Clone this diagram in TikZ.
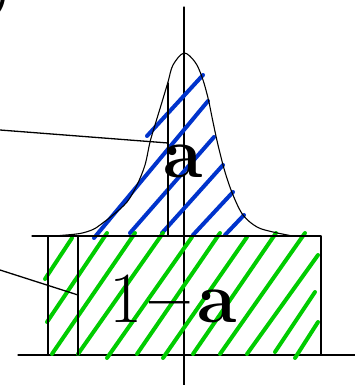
\documentclass[tikz,border=0pt]{standalone}
\usepackage{fontspec}
\usepackage{tikz}
\usetikzlibrary{calc}
\definecolor{hatchblue}{HTML}{0033CC}
\definecolor{hatchgreen}{HTML}{00CC00}
\tikzset{
    lab/.style={
        font=\fontsize{72}{80}\selectfont, inner sep=0pt
    },
    hatch/.style={line width=4pt, line cap=round}
}

\begin{document}
\begin{tikzpicture}[x=1pt,y=-1pt, line cap=round, line join=round]
\useasboundingbox (0,0) rectangle (355,385);

% cut-off label in the corner
\node[font=\fontsize{46}{50}\selectfont\bfseries, inner sep=0pt, anchor=south east] (corner) at (11,18) {)};

\def\lw{1.3pt}

% axes
\draw[line width=\lw] (18,355) -- (355,355);
\draw[line width=\lw] (184,7) -- (184,385);

% blue hatching under the peak
\foreach \xa/\ya/\xb/\yb in {147/136/203/75, 94/238/208/101, 130/233/214/137,
    162/233/223/165, 193/235/233/192, 225/235/244/215} {
  \draw[hatch, hatchblue] (\xa,\ya) -- (\xb,\yb);
}

% green hatching of the box
\foreach \xa/\ya/\xb/\yb in {45/279/72/238, 47/322/107/233, 52/354/135/233,
    78/354/163/233, 107/358/192/237, 137/354/220/233, 163/358/247/237,
    193/354/276/233, 220/354/305/233, 247/354/318/255, 275/352/315/292,
    295/358/318/322} {
  \draw[hatch, hatchgreen] (\xa,\ya) -- (\xb,\yb);
}

% box
\draw[line width=\lw] (32,236) -- (321,236) -- (321,355);
\draw[line width=\lw] (48,236) -- (48,355);
\draw[line width=\lw] (78,236) -- (78,355);

% peak
\draw[line width=1.1pt] plot[smooth, tension=0.55] coordinates {
  (60,235.5) (80,233.5) (93,229.5) (100,225) (113,215) (127,202) (137,185)
  (145,165) (150,142) (155,125) (162,102) (168,82) (173,65) (184,53)
  (195,62) (202,77) (208,98) (213,122) (218,145) (225,172) (233,195)
  (243,215) (257,227) (273,232) (290,235.5)};
\draw[line width=\lw] (168,83) -- (168,236);

% leaders
\coordinate (tipA) at (168,143);
\coordinate (tipB) at (78,295);
\coordinate (endA) at (0,130);
\coordinate (endB) at (0,270);
\draw[line width=\lw] (endA) -- (tipA);
\draw[line width=\lw] (endB) -- (tipB);

% labels
\node[lab] (peak) at (183,161) {\textbf{a}};
\node[lab, anchor=base west] (rest) at (109,322) {1\kern0.1em\textbf{–}\kern0.1em\textbf{a}};

\end{tikzpicture}
\end{document}
